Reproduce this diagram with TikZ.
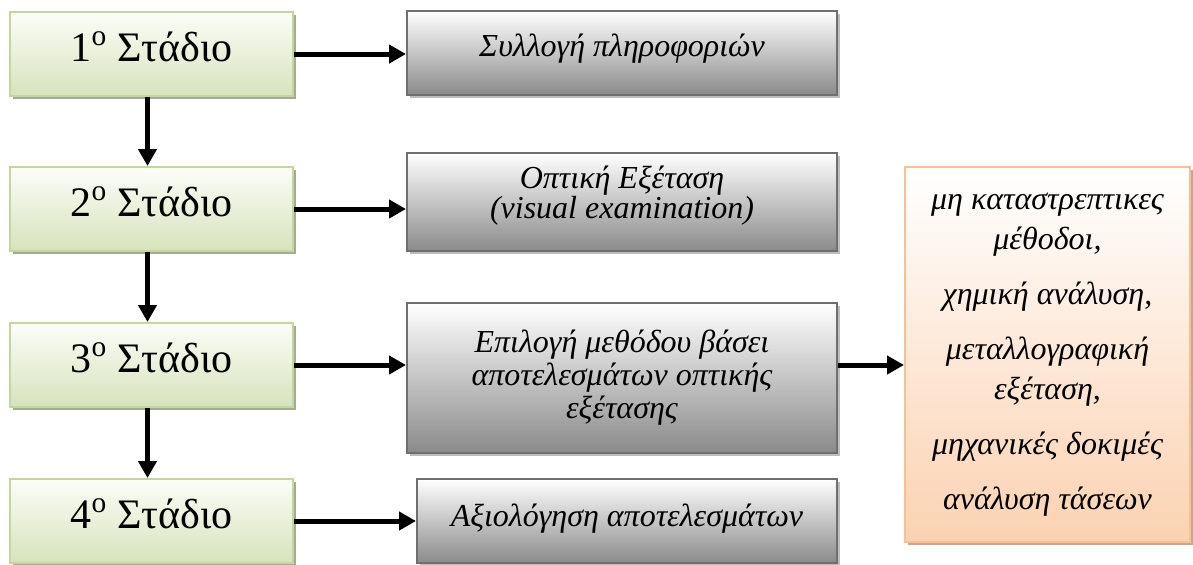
\documentclass[tikz,border=0pt]{standalone}
\usepackage{fontspec}
\setmainfont{Liberation Serif}
\usetikzlibrary{arrows.meta, shadows}

\definecolor{stgreentop}{HTML}{FCFDF8}
\definecolor{stgreen}{HTML}{D6E3BC}
\definecolor{stgreenline}{HTML}{C3D69B}
\definecolor{stgreenshadow}{HTML}{A3AA95}
\definecolor{infogray}{HTML}{8A8A8A}
\definecolor{infoline}{HTML}{6F6F6F}
\definecolor{infoshadow}{HTML}{BDBDBD}
\definecolor{methorange}{HTML}{FBD2B1}
\definecolor{methline}{HTML}{FAC090}
\definecolor{methshadow}{HTML}{C9A78C}

\tikzset{
  stage/.style={draw=stgreenline, line width=1pt, top color=stgreentop, bottom color=stgreen,
                general shadow={fill=stgreenshadow, shadow xshift=1.5pt, shadow yshift=-1.5pt},
                minimum width=141.5pt, minimum height=42pt, text height=15pt, text depth=8pt,
                font=\fontsize{21}{25}\selectfont},
  info/.style={draw=infoline, line width=1pt, top color=white, bottom color=infogray,
               general shadow={fill=infoshadow, shadow xshift=1.5pt, shadow yshift=-1.5pt},
               minimum width=215pt},
  % base of a label with several lines is the baseline of its last line
  infotext/.style={anchor=base, inner sep=0pt, align=center,
                   font=\fontsize{16}{16}\selectfont\itshape},
  methods/.style={draw=methline, line width=1pt, top color=white, bottom color=methorange,
                  general shadow={fill=methshadow, shadow xshift=1.5pt, shadow yshift=-1.5pt},
                  minimum width=142.5pt, minimum height=187.5pt, align=center,
                  font=\fontsize{16}{20}\selectfont\itshape},
  flow/.style={line width=2.5pt, -{Triangle[length=8.5pt, width=9pt]}}
}

\begin{document}
\begin{tikzpicture}[x=0.5pt, y=-0.5pt]

    \useasboundingbox (0,0) rectangle (1193,564); % same size as the reference, in px

    % stages on the left
    \node [stage] (st1) at (151.5, 54)  {1\textsuperscript{ο} Στάδιο};
    \node [stage] (st2) at (151.5, 209) {2\textsuperscript{ο} Στάδιο};
    \node [stage] (st3) at (151.5, 365) {3\textsuperscript{ο} Στάδιο};
    \node [stage] (st4) at (151.5, 521) {4\textsuperscript{ο} Στάδιο};

    % what happens in each stage, text sits near the top of the box
    \node [info, minimum height=42pt] (in1) at (622, 53)
          [label={[infotext, yshift=-23pt]north:Συλλογή πληροφοριών}] {};
    \node [info, minimum height=49pt] (in2) at (622, 202)
          [label={[infotext, yshift=-33pt, font=\fontsize{16}{15}\selectfont\itshape]north:Οπτική Εξέταση\\(visual examination)}] {};
    \node [info, minimum height=75pt] (in3) at (622, 378)
          [label={[infotext, yshift=-58pt, font=\fontsize{16}{16.5}\selectfont\itshape]north:Επιλογή μεθόδου βάσει\\αποτελεσμάτων οπτικής\\εξέτασης}] {};
    \node [info, minimum height=42pt, minimum width=210pt] (in4) at (627, 521)
          [label={[infotext, yshift=-24pt]north:Αξιολόγηση αποτελεσμάτων}] {};

    \node [methods] (meth) at (1047.5, 354.5)
          {μη καταστρεπτικες\\μέθοδοι,\\[7.5pt]χημική ανάλυση,\\[7.5pt]μεταλλογραφική\\εξέταση,\\[7.5pt]μηχανικές δοκιμές\\[7.5pt]ανάλυση τάσεων};

    \foreach \i in {1,...,4} \draw [flow] (st\i.east) -- (st\i.east -| in\i.west);
    \foreach \i/\j in {1/2, 2/3, 3/4} \draw [flow] ([xshift=-2pt]st\i.south) -- ([xshift=-2pt]st\j.north);
    \draw [flow] (st3.east -| in3.east) -- (st3.east -| meth.west);

\end{tikzpicture}
\end{document}
